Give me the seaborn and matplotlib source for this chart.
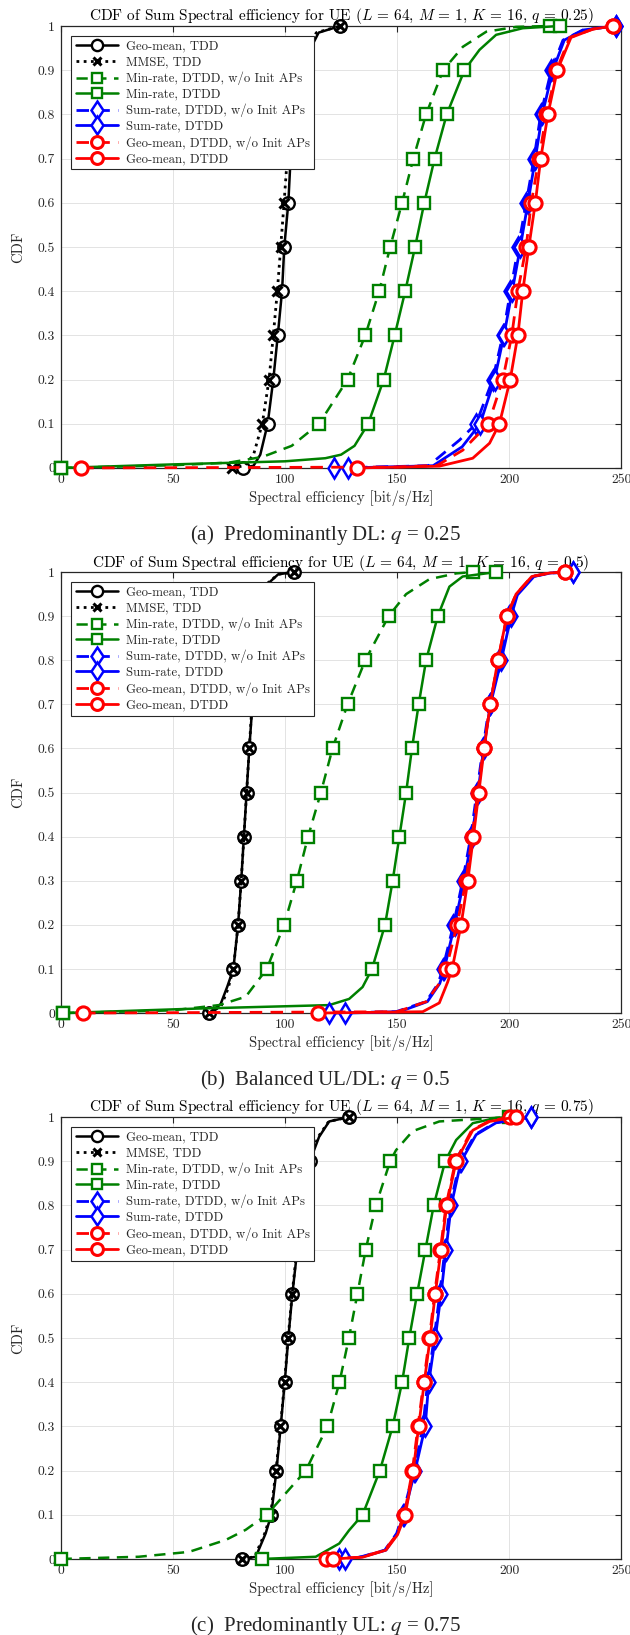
import pandas as pd
import seaborn as sns
import matplotlib.pyplot as plt
from matplotlib.lines import Line2D
from matplotlib.ticker import FixedLocator, FixedFormatter

# CDF levels where the markers sit
levels = [0, 0.1, 0.2, 0.3, 0.4, 0.5, 0.6, 0.7, 0.8, 0.9, 1.0]
cdf_ticklabels = ["0", "0.1", "0.2", "0.3", "0.4", "0.5", "0.6", "0.7", "0.8", "0.9", "1"]
se_ticks = [0, 50, 100, 150, 200, 250]

labels = ["Geo-mean, TDD", "MMSE, TDD", "Min-rate, DTDD, w/o Init APs", "Min-rate, DTDD",
          "Sum-rate, DTDD, w/o Init APs", "Sum-rate, DTDD", "Geo-mean, DTDD, w/o Init APs",
          "Geo-mean, DTDD"]

titles = ["CDF of Sum Spectral efficiency for UE ($L$ = 64, $M$ = 1, $K$ = 16, $q$ = 0.25)",
          "CDF of Sum Spectral efficiency for UE ($L$ = 64, $M$ = 1, $K$ = 16, $q$ = 0.5)",
          "CDF of Sum Spectral efficiency for UE ($L$ = 64, $M$ = 1, $K$ = 16, $q$ = 0.75)"]
captions = ["(a)  Predominantly DL: $q$ = 0.25",
            "(b)  Balanced UL/DL: $q$ = 0.5",
            "(c)  Predominantly UL: $q$ = 0.75"]

# ---- (a) q = 0.25 : spectral efficiency at each CDF level ----
a_geo_tdd = [81.3, 92.3, 94.8, 96.8, 98.7, 99.7, 101.5, 102.5, 104.0, 107.5, 124.6]
a_mmse = [76.2, 89.9, 92.9, 94.8, 96.6, 98.1, 99.6, 101.0, 103.0, 106.0, 124.6]
a_min_wo = [0.0, 115.2, 127.9, 135.8, 142.0, 146.9, 152.2, 157.2, 162.9, 170.5, 218.0]
a_min = [0.0, 137.1, 144.0, 148.9, 153.6, 158.0, 162.1, 166.7, 172.1, 180.0, 222.4]
a_sum_wo = [121.9, 185.2, 192.6, 197.1, 200.5, 204.0, 207.5, 211.0, 214.0, 218.7, 247.4]
a_sum = [127.9, 187.0, 193.4, 197.6, 201.3, 204.9, 208.3, 211.6, 214.7, 219.4, 247.4]
a_geo_wo = [9.2, 190.7, 197.1, 201.1, 203.8, 207.5, 209.8, 213.2, 216.5, 221.0, 246.2]
a_geo = [132.3, 195.6, 200.4, 203.8, 206.0, 208.7, 211.6, 214.0, 217.2, 221.4, 246.2]
# extra points read on the curve tails (se, cdf)
a_geo_tdd_x = [(86, 0.005), (89, 0.03), (110.5, 0.94), (115, 0.985)]
a_mmse_x = [(82, 0.005), (86, 0.03), (109, 0.94), (114, 0.985)]
a_min_wo_x = [(50, 0.006), (75, 0.012), (90, 0.025), (103, 0.05), (179.3, 0.953), (189.7, 0.987), (203, 0.998)]
a_min_x = [(50, 0.008), (100, 0.015), (118, 0.022), (125, 0.03), (131, 0.05), (186.7, 0.946), (194.1, 0.98), (206, 0.995)]
a_sum_wo_x = [(164, 0.005), (177.8, 0.063), (223.9, 0.968), (232.8, 0.991)]
a_sum_x = [(166, 0.005), (179, 0.048), (224.5, 0.968), (233, 0.991)]
a_geo_wo_x = [(150, 0.002), (168, 0.006), (179.2, 0.04), (226.9, 0.974), (237.3, 0.993)]
a_geo_x = [(168.8, 0.004), (183.7, 0.022), (191.2, 0.056), (227.5, 0.974), (237.3, 0.993)]

# ---- (b) q = 0.5 ----
b_geo_tdd = [66.1, 77.0, 79.1, 80.5, 81.7, 82.9, 84.1, 85.5, 87.0, 89.5, 104.1]
b_mmse = [66.1, 77.0, 79.1, 80.5, 81.7, 82.9, 84.1, 85.3, 86.8, 89.2, 104.1]
b_min_wo = [1.0, 91.9, 99.6, 105.3, 110.3, 116.0, 121.2, 127.9, 135.8, 146.2, 183.7]
b_min = [1.0, 138.8, 144.6, 148.0, 151.0, 154.0, 156.6, 159.6, 162.9, 168.1, 194.1]
b_sum_wo = [119.7, 170.3, 175.1, 179.2, 182.8, 185.5, 188.2, 191.2, 195.6, 200.0, 228.4]
b_sum = [126.8, 171.0, 175.6, 179.8, 183.4, 186.0, 188.6, 191.6, 196.4, 200.8, 228.4]
b_geo_wo = [10.0, 171.8, 176.7, 180.7, 183.4, 185.9, 188.5, 191.5, 194.9, 198.9, 225.0]
b_geo = [114.9, 174.5, 178.5, 181.5, 184.0, 186.4, 188.8, 191.5, 194.9, 198.9, 225.0]
b_geo_tdd_x = [(71.3, 0.02), (74.3, 0.06), (92.9, 0.976), (97, 0.995)]
b_mmse_x = [(71.5, 0.015), (74.6, 0.055), (92.5, 0.976), (97, 0.995)]
b_min_wo_x = [(49.7, 0.006), (70.6, 0.018), (82.5, 0.037), (154, 0.95), (164.4, 0.984), (176.3, 0.997)]
b_min_x = [(60, 0.01), (119.7, 0.018), (128.6, 0.032), (134.6, 0.059), (173.3, 0.967), (179.2, 0.99)]
b_sum_wo_x = [(149.5, 0.003), (162.9, 0.026), (168.3, 0.067), (203.1, 0.948), (210.5, 0.99), (218, 0.998)]
b_sum_x = [(151, 0.003), (163.5, 0.026), (169, 0.067), (203.6, 0.948), (211, 0.99), (218.5, 0.998)]
b_geo_wo_x = [(150, 0.003), (163, 0.026), (168.5, 0.065), (203, 0.95), (210, 0.99), (218, 0.998)]
b_geo_x = [(161.4, 0.003), (168.8, 0.023), (172.5, 0.07), (203, 0.95), (210, 0.99), (218, 0.998)]

# ---- (c) q = 0.75 ----
c_geo_tdd = [81.0, 93.9, 96.2, 98.1, 99.9, 101.5, 103.3, 105.5, 108.0, 111.1, 128.6]
c_mmse = [81.0, 93.6, 96.0, 98.0, 99.8, 101.4, 103.2, 105.3, 107.8, 110.5, 128.6]
c_min_wo = [0.0, 91.9, 109.3, 118.9, 124.3, 128.5, 132.3, 136.0, 140.5, 146.9, 200.0]
c_min = [89.6, 134.6, 142.3, 148.0, 152.2, 155.4, 158.9, 162.6, 166.3, 171.4, 202.0]
c_sum_wo = [124.0, 152.4, 157.6, 161.5, 163.6, 166.5, 169.0, 171.3, 173.6, 178.0, 209.8]
c_sum = [126.7, 153.0, 158.0, 162.5, 164.1, 167.0, 169.6, 171.8, 174.1, 178.5, 209.8]
c_geo_wo = [118.5, 153.2, 156.8, 159.3, 161.8, 164.4, 166.7, 169.3, 171.8, 176.0, 200.1]
c_geo = [121.5, 153.6, 157.2, 159.6, 162.1, 164.7, 167.0, 169.6, 172.1, 176.3, 202.8]
c_geo_tdd_x = [(87, 0.005), (91.4, 0.058), (115.2, 0.955), (119.7, 0.99)]
c_mmse_x = [(86.5, 0.005), (91, 0.058), (114.8, 0.955), (119.5, 0.99)]
c_min_wo_x = [(34.8, 0.005), (57.2, 0.016), (73.6, 0.043), (82.5, 0.066), (100.4, 0.149),
              (149.5, 0.925), (156.9, 0.968), (168.8, 0.99)]
c_min_x = [(113.7, 0.005), (124.2, 0.035), (128.6, 0.065), (176.3, 0.948), (183.7, 0.986), (194.1, 0.998)]
c_sum_wo_x = [(134, 0.005), (144.5, 0.02), (149.8, 0.058), (184.7, 0.96), (193.6, 0.987)]
c_sum_x = [(134.6, 0.005), (145, 0.02), (150.2, 0.058), (185.2, 0.96), (194.1, 0.987)]
c_geo_wo_x = [(134, 0.004), (144.5, 0.02), (149.8, 0.055), (183.2, 0.97), (190.7, 0.99)]
c_geo_x = [(134.6, 0.004), (145, 0.02), (150.2, 0.055), (183.7, 0.97), (191.2, 0.99)]

panels = [
    [(a_geo_tdd, a_geo_tdd_x), (a_mmse, a_mmse_x), (a_min_wo, a_min_wo_x), (a_min, a_min_x),
     (a_sum_wo, a_sum_wo_x), (a_sum, a_sum_x), (a_geo_wo, a_geo_wo_x), (a_geo, a_geo_x)],
    [(b_geo_tdd, b_geo_tdd_x), (b_mmse, b_mmse_x), (b_min_wo, b_min_wo_x), (b_min, b_min_x),
     (b_sum_wo, b_sum_wo_x), (b_sum, b_sum_x), (b_geo_wo, b_geo_wo_x), (b_geo, b_geo_x)],
    [(c_geo_tdd, c_geo_tdd_x), (c_mmse, c_mmse_x), (c_min_wo, c_min_wo_x), (c_min, c_min_x),
     (c_sum_wo, c_sum_wo_x), (c_sum, c_sum_x), (c_geo_wo, c_geo_wo_x), (c_geo, c_geo_x)],
]

green = "#008000"
dash = (4.5, 3)
styles = [
    dict(color="black", ls="-", lw=1.8, marker="o", ms=9, mew=1.7),
    dict(color="black", ls=(0, (1, 1.6)), lw=2.0, marker="x", ms=7, mew=2.2),
    dict(color=green, ls=(0, dash), lw=1.8, marker="s", ms=8, mew=1.7),
    dict(color=green, ls="-", lw=1.8, marker="s", ms=8, mew=1.7),
    dict(color="blue", ls=(0, dash), lw=2.0, marker="d", ms=10.5, mew=1.8),
    dict(color="blue", ls="-", lw=2.0, marker="d", ms=10.5, mew=1.8),
    dict(color="red", ls=(0, dash), lw=2.0, marker="o", ms=9.5, mew=2.2),
    dict(color="red", ls="-", lw=2.0, marker="o", ms=9.5, mew=2.2),
]

sns.set_theme(style="whitegrid")
# Computer Modern look for the LaTeX-rendered figure text
plt.rcParams["font.family"] = ["cmr10", "DejaVu Serif"]
plt.rcParams["mathtext.fontset"] = "cm"
plt.rcParams["axes.unicode_minus"] = False

fig = plt.figure(figsize=(6.3, 16.35), dpi=100)
axes_rects = [[0.0962, 0.7138, 0.8903, 0.2703],
              [0.0962, 0.3804, 0.8903, 0.2697],
              [0.0962, 0.0465, 0.8903, 0.2703]]
caption_y = [1 - 535 / 1635, 1 - 1080 / 1635, 1 - 1626 / 1635]
axis_col = "#262626"

handles = [Line2D([], [], color=st["color"], linestyle=st["ls"], linewidth=st["lw"],
                  marker=st["marker"], markersize=st["ms"] * 0.9, markeredgewidth=st["mew"],
                  markeredgecolor=st["color"], markerfacecolor="white") for st in styles]

for p, series in enumerate(panels):
    ax = fig.add_axes(axes_rects[p])
    for i, (dec, extra) in enumerate(series):
        df = pd.DataFrame([(x, y, True) for x, y in zip(dec, levels)] +
                          [(x, y, False) for x, y in extra], columns=["se", "cdf", "mark"])
        df = df.sort_values(["cdf", "se"]).reset_index(drop=True)
        st = styles[i]
        sns.lineplot(data=df, x="se", y="cdf", sort=False, estimator=None, ax=ax, legend=False,
                     color=st["color"], linestyle=st["ls"], linewidth=st["lw"],
                     marker=st["marker"], markersize=st["ms"],
                     markeredgewidth=st["mew"], markeredgecolor=st["color"],
                     markerfacecolor="white", markevery=list(df.index[df["mark"]]),
                     clip_on=False, zorder=3 + i)
    ax.set_xlim(0, 250)
    ax.set_ylim(0, 1)
    ax.xaxis.set_major_locator(FixedLocator(se_ticks))
    ax.yaxis.set_major_locator(FixedLocator(levels))
    ax.yaxis.set_major_formatter(FixedFormatter(cdf_ticklabels))
    ax.tick_params(direction="in", length=4, width=0.8, top=True, right=True,
                   labelsize=9.8, colors=axis_col, pad=4)
    ax.tick_params(labeltop=False, labelright=False)
    ax.grid(True, color="#e3e3e3", linewidth=0.7)
    for sp in ax.spines.values():
        sp.set_color(axis_col)
        sp.set_linewidth(0.9)
        sp.set_zorder(2)
    ax.set_xlabel("Spectral efficiency [bit/s/Hz]", fontsize=10.5, color=axis_col, labelpad=3)
    ax.set_ylabel("CDF", fontsize=10.5, color=axis_col, labelpad=9)
    ax.set_title(titles[p], fontsize=11, color="black", pad=4)
    leg = ax.legend(handles, labels, loc="upper left", bbox_to_anchor=(0.019, 0.977),
                    borderaxespad=0, fancybox=False, framealpha=1, edgecolor=axis_col,
                    fontsize=9.2, handlelength=3.3, labelspacing=0.26, borderpad=0.35,
                    handletextpad=0.6)
    leg.get_frame().set_linewidth(0.8)
    leg.set_zorder(20)
    fig.text(0.516, caption_y[p], captions[p], ha="center", va="center", fontsize=15,
             family=["Liberation Serif", "DejaVu Serif"], math_fontfamily="stix")

fig.savefig("out.png", dpi=100)
